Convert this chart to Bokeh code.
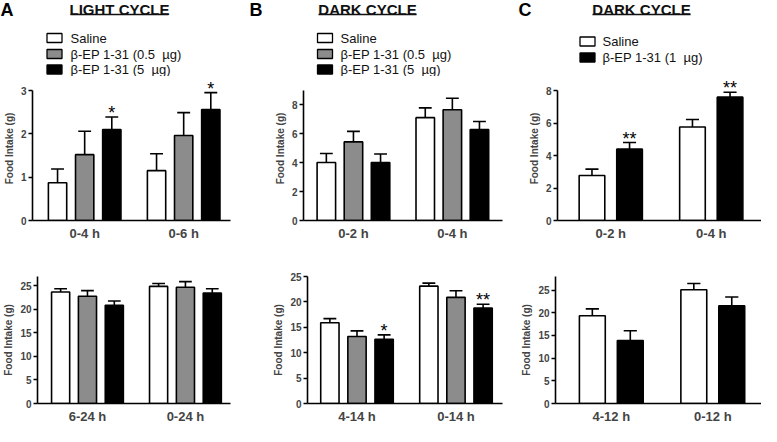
import numpy as np
from bokeh.plotting import figure
from bokeh.models import Range1d, FixedTicker
from bokeh.layouts import column, row
from bokeh.embed import file_html
from bokeh.resources import INLINE
from bokeh.core.properties import value

FONT = "Liberation Sans"

# ---------------- data ----------------
legend_three = ["Saline", "\u03b2-EP 1-31 (0.5\u00a0 \u00b5g)", "\u03b2-EP 1-31 (5\u00a0 \u00b5g)"]
legend_two = ["Saline", "\u03b2-EP 1-31 (1\u00a0 \u00b5g)"]
panel_letters = ["A", "B", "C"]
panel_titles = ["LIGHT CYCLE", "DARK CYCLE", "DARK CYCLE"]
y_label = "Food Intake (g)"

# Panel A, top
a1_cats = ["0-4 h", "0-6 h"]
a1_saline = [0.87, 1.15]
a1_saline_sem = [0.32, 0.39]
a1_low = [1.52, 1.96]
a1_low_sem = [0.54, 0.53]
a1_high = [2.10, 2.56]
a1_high_sem = [0.29, 0.39]
a1_high_sig = ["*", "*"]

# Panel A, bottom
a2_cats = ["6-24 h", "0-24 h"]
a2_saline = [23.7, 24.9]
a2_saline_sem = [0.7, 0.6]
a2_low = [22.8, 24.7]
a2_low_sem = [1.2, 1.2]
a2_high = [20.9, 23.5]
a2_high_sem = [0.9, 0.9]

# Panel B, top
b1_cats = ["0-2 h", "0-4 h"]
b1_saline = [4.02, 7.12]
b1_saline_sem = [0.62, 0.68]
b1_low = [5.44, 7.67]
b1_low_sem = [0.73, 0.79]
b1_high = [4.02, 6.30]
b1_high_sem = [0.58, 0.55]

# Panel B, bottom
b2_cats = ["4-14 h", "0-14 h"]
b2_saline = [15.9, 23.1]
b2_saline_sem = [0.8, 0.6]
b2_low = [13.2, 20.9]
b2_low_sem = [1.1, 1.3]
b2_high = [12.65, 18.8]
b2_high_sem = [0.85, 0.75]
b2_high_sig = ["*", "**"]

# Panel C, top
c1_cats = ["0-2 h", "0-4 h"]
c1_saline = [2.77, 5.75]
c1_saline_sem = [0.39, 0.47]
c1_drug = [4.39, 7.59]
c1_drug_sem = [0.41, 0.30]
c1_drug_sig = ["**", "**"]

# Panel C, bottom
c2_cats = ["4-12 h", "0-12 h"]
c2_saline = [19.35, 25.07]
c2_saline_sem = [1.52, 1.38]
c2_drug = [13.9, 21.56]
c2_drug_sem = [2.15, 1.92]

# ---------------- style ----------------
WHITE, GRAY, BLACK = "#ffffff", "#8c8c8c", "#000000"
COL_W = [249, 254, 258]
HEAD_H, TOP_H, BOT_H = 76, 172, 178


def panel(cats, series, ymax, yticks, xr, width, height, bl, br, bt, bb,
          pad_px, offsets, bar_w, cap_w):
    frame_h = height - bt - bb
    y_end = ymax * frame_h / (frame_h - pad_px)
    p = figure(width=width, height=height, x_range=Range1d(*xr),
               y_range=Range1d(0, y_end), toolbar_location=None,
               output_backend="svg", min_border_left=bl, min_border_right=br,
               min_border_top=bt, min_border_bottom=bb)
    p.grid.visible = False
    p.outline_line_color = None
    idx = np.arange(len(cats))
    for (means, sems, color, sig), off in zip(series, offsets):
        x = idx + off
        m = np.array(means)
        top = m + np.array(sems)
        p.vbar(x=x, bottom=0, top=m, width=bar_w, fill_color=color,
               line_color="black", line_width=1.6)
        p.segment(x0=x, y0=m, x1=x, y1=top, line_color="black", line_width=1.6)
        p.segment(x0=x - cap_w / 2, y0=top, x1=x + cap_w / 2, y1=top,
                  line_color="black", line_width=1.6)
        if sig is not None:
            p.text(x=x, y=top, text=sig, text_align="center",
                   text_baseline="alphabetic", y_offset=-4,
                   text_font=value(FONT), text_font_size="18px",
                   text_color="black")
    xa = p.xaxis[0]
    xa.ticker = FixedTicker(ticks=list(idx))
    xa.major_label_overrides = {int(i): c for i, c in zip(idx, cats)}
    xa.major_tick_out = 0
    xa.major_tick_in = 0
    xa.minor_tick_out = 0
    xa.minor_tick_in = 0
    xa.major_label_text_font = FONT
    xa.major_label_text_font_style = "bold"
    xa.major_label_text_font_size = "13px"
    xa.major_label_standoff = 5
    xa.axis_line_width = 1.6
    ya = p.yaxis[0]
    ya.bounds = (0, ymax)
    ya.ticker = FixedTicker(ticks=yticks)
    ya.major_tick_out = 4
    ya.major_tick_in = 0
    ya.minor_tick_out = 0
    ya.minor_tick_in = 0
    ya.major_label_text_font = FONT
    ya.major_label_text_font_style = "bold"
    ya.major_label_text_font_size = "10px"
    ya.major_label_standoff = 2
    ya.axis_line_width = 1.6
    ya.major_tick_line_width = 1.4
    ya.axis_label = y_label
    ya.axis_label_text_font = FONT
    ya.axis_label_text_font_style = "bold"
    ya.axis_label_text_font_size = "10px"
    ya.axis_label_standoff = 3
    return p


def header(width, letter, title, title_cx, box_x, text_x, rows_y, labels,
           colors, letter_x):
    p = figure(width=width, height=HEAD_H, x_range=Range1d(0, width),
               y_range=Range1d(HEAD_H, 0), toolbar_location=None,
               output_backend="svg", x_axis_type=None, y_axis_type=None,
               min_border=0)
    p.grid.visible = False
    p.outline_line_color = None
    p.text(x=[letter_x], y=[-1], text=[letter], text_font=value(FONT),
           text_font_size="18px", text_font_style="bold",
           text_baseline="top", text_align="left", text_color="black")
    p.text(x=[title_cx], y=[0], text=[title], text_font=value(FONT),
           text_font_size="15px", text_font_style="bold",
           text_baseline="top", text_align="center", text_color="#111111")
    p.segment(x0=[title_cx - 49], y0=[14], x1=[title_cx + 49], y1=[14],
              line_color="#111111", line_width=1.3)
    n = len(labels)
    p.rect(x=[box_x] * n, y=rows_y, width=15, height=9, fill_color=colors,
           line_color="black", line_width=1.3)
    p.text(x=[text_x] * n, y=rows_y, text=labels, text_font=value(FONT),
           text_font_size="13px", text_baseline="middle", text_align="left",
           text_color="#111111")
    return p


three = [WHITE, GRAY, BLACK]
two = [WHITE, BLACK]
off3 = [-0.274, 0.0, 0.274]
off2 = [-0.187, 0.187]

hA = header(COL_W[0], panel_letters[0], panel_titles[0], 119, 54, 70,
            [37.5, 53.5, 69], legend_three, three, 0)
hB = header(COL_W[1], panel_letters[1], panel_titles[1], 118, 75.5, 91,
            [37.5, 53.5, 69], legend_three, three, 0)
hC = header(COL_W[2], panel_letters[2], panel_titles[2], 138, 84, 99,
            [41, 57], legend_two, two, 15)

pA1 = panel(a1_cats,
            [(a1_saline, a1_saline_sem, WHITE, None),
             (a1_low, a1_low_sem, GRAY, None),
             (a1_high, a1_high_sem, BLACK, a1_high_sig)],
            3, [0, 1, 2, 3], (-0.527, 1.473), COL_W[0], TOP_H, 30, 19, 0, 28,
            14, off3, 0.185, 0.13)
pA2 = panel(a2_cats,
            [(a2_saline, a2_saline_sem, WHITE, None),
             (a2_low, a2_low_sem, GRAY, None),
             (a2_high, a2_high_sem, BLACK, None)],
            27, [0, 5, 10, 15, 20, 25], (-0.51, 1.46), COL_W[0], BOT_H, 31, 19,
            28, 20, 0, off3, 0.185, 0.13)
pB1 = panel(b1_cats,
            [(b1_saline, b1_saline_sem, WHITE, None),
             (b1_low, b1_low_sem, GRAY, None),
             (b1_high, b1_high_sem, BLACK, None)],
            9, [0, 2, 4, 6, 8], (-0.505, 1.507), COL_W[1], TOP_H, 54, 1, 0, 28,
            14, off3, 0.187, 0.13)
pB2 = panel(b2_cats,
            [(b2_saline, b2_saline_sem, WHITE, None),
             (b2_low, b2_low_sem, GRAY, None),
             (b2_high, b2_high_sem, BLACK, b2_high_sig)],
            25, [0, 5, 10, 15, 20, 25], (-0.50, 1.47), COL_W[1], BOT_H, 58, 1,
            28, 20, 0, off3, 0.185, 0.13)
pC1 = panel(c1_cats,
            [(c1_saline, c1_saline_sem, WHITE, None),
             (c1_drug, c1_drug_sem, BLACK, c1_drug_sig)],
            8, [0, 2, 4, 6, 8], (-0.53, 1.50), COL_W[2], TOP_H, 54, 0, 0, 28,
            14, off2, 0.255, 0.13)
pC2 = panel(c2_cats,
            [(c2_saline, c2_saline_sem, WHITE, None),
             (c2_drug, c2_drug_sem, BLACK, None)],
            28, [0, 5, 10, 15, 20, 25], (-0.55, 1.48), COL_W[2], BOT_H, 52, 0,
            28, 20, 0, off2, 0.255, 0.13)

layout = column(row(hA, hB, hC), row(pA1, pB1, pC1), row(pA2, pB2, pC2))

with open("out.html", "w") as f:
    f.write(file_html(layout, INLINE))
